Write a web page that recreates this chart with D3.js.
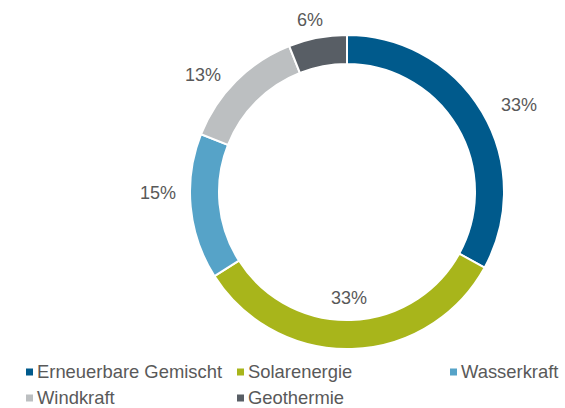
<!DOCTYPE html>
<html lang="de">
<head>
<meta charset="UTF-8">
<title>Anteile erneuerbare Energien</title>
<script src="https://d3js.org/d3.v7.min.js"></script>
<style>
  body { margin: 0; background: #fff; }
  svg text { font-family: "Liberation Sans", Arial, sans-serif; fill: #595959; }
</style>
</head>
<body>
<svg width="565" height="408"></svg>
<script>
  const categories = ["Erneuerbare Gemischt", "Solarenergie", "Wasserkraft", "Windkraft", "Geothermie"];
  const values = [33, 33, 15, 13, 6];
  const colors = ["#005a8c", "#a8b51b", "#56a3c8", "#bcbfc1", "#585e65"];

  const width = 565, height = 408;
  const cx = 347, cy = 192;
  const outerR = 157, innerR = 128;

  const svg = d3.select("svg");
  const g = svg.append("g").attr("transform", `translate(${cx},${cy})`);

  const pie = d3.pie().sort(null).value(d => d.value);
  const arcs = pie(categories.map((c, i) => ({ name: c, value: values[i], color: colors[i] })));

  const arc = d3.arc().innerRadius(innerR).outerRadius(outerR);

  g.selectAll("path")
    .data(arcs)
    .enter().append("path")
    .attr("d", arc)
    .attr("fill", d => d.data.color)
    .attr("stroke", "#fff")
    .attr("stroke-width", 2);

  // label placement: distance from centre and a small nudge (degrees) off the slice middle
  const labelR = [193, 106, 189, 186, 176];
  const labelNudge = [3.6, 0.7, 5.1, -5.7, -1.3];
  function labelPos(d, i) {
    const a = (d.startAngle + d.endAngle) / 2 + labelNudge[i] * Math.PI / 180;
    return [labelR[i] * Math.sin(a), -labelR[i] * Math.cos(a)];
  }

  g.selectAll(".lbl")
    .data(arcs)
    .enter().append("text")
    .attr("class", "lbl")
    .attr("x", (d, i) => labelPos(d, i)[0])
    .attr("y", (d, i) => labelPos(d, i)[1])
    .attr("text-anchor", "middle")
    .attr("dy", "0.35em")
    .style("font-size", "18px")
    .text(d => d.data.value + "%");

  // legend
  const legX = [26, 237, 450, 26, 237];
  const legY = [372, 372, 372, 398, 398];
  const leg = svg.selectAll(".leg")
    .data(categories)
    .enter().append("g")
    .attr("class", "leg")
    .attr("transform", (d, i) => `translate(${legX[i]},${legY[i]})`);

  leg.append("rect")
    .attr("x", 0).attr("y", -3.5)
    .attr("width", 7).attr("height", 7)
    .attr("fill", (d, i) => colors[i]);

  leg.append("text")
    .attr("x", 11)
    .attr("dy", "0.35em")
    .style("font-size", "18.4px")
    .text(d => d);
</script>
</body>
</html>
